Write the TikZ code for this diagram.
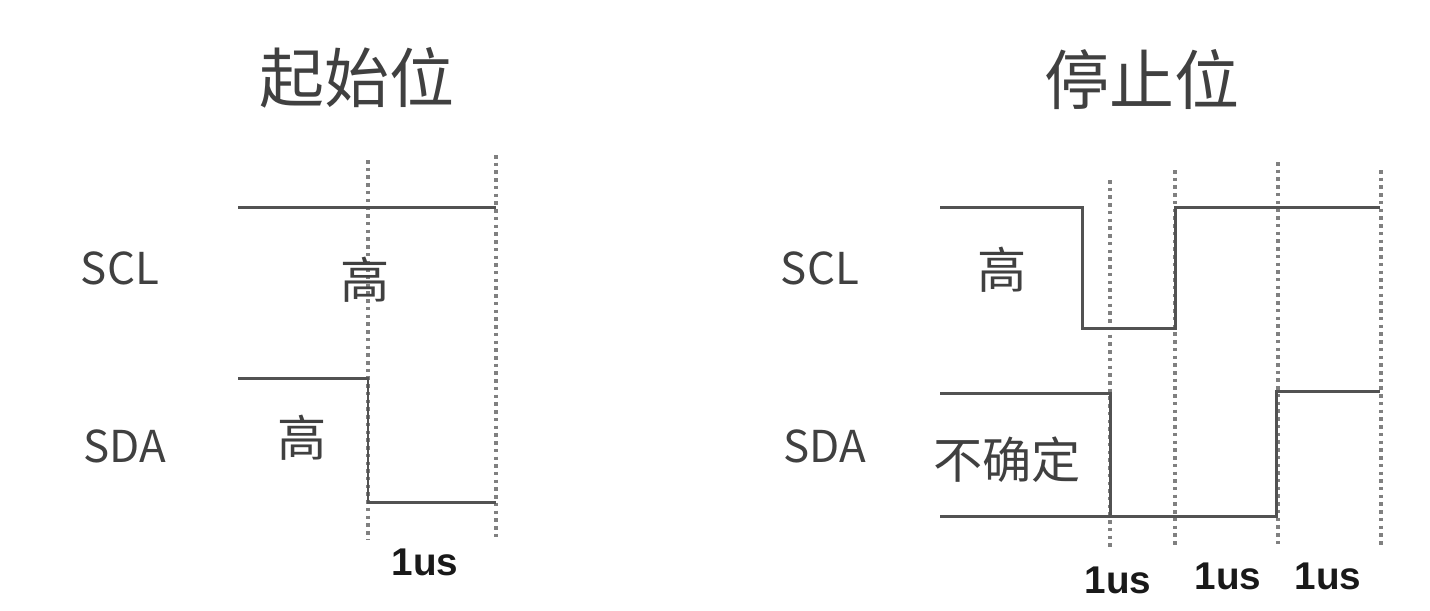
\documentclass[tikz,border=0pt]{standalone}
\usepackage{fontspec}
\setmainfont{Noto Sans CJK SC}
\newfontfamily\spanfont{Liberation Sans}
\usepackage{tikz}
\usetikzlibrary{positioning}

\begin{document}
\begin{tikzpicture}[
  x=0.02cm, y=-0.02cm,
  wave/.style={draw, line width=1.7pt, color=black!68, line join=miter},
  marker/.style={draw, line width=2pt, color=black!50, dash pattern=on 2pt off 2.4pt},
  title/.style={font=\fontsize{37}{40}\selectfont, text=black!75},
  signame/.style={font=\fontsize{25}{28}\selectfont, text=black!75},
  level/.style={font=\fontsize{28}{30}\selectfont, text=black!75},
  span/.style={font=\spanfont\fontsize{22}{24}\selectfont\bfseries, text=black!90}
]
  \useasboundingbox (0,0) rectangle (1430,610);

  % start condition
  \node [title] (starttitle) at (357,78) {起始位};
  \node [signame] (sclA) at (120,268) {SCL};
  \node [signame] (sdaA) at (125,446) {SDA};

  \draw [marker] (368,160) -- (368,540);
  \draw [marker] (496,155) -- (496,540);

  \draw [wave] (238,207) -- (496,207);
  \draw [wave] (238,378) -- (368,378) -- (368,502) -- (496,502);

  \node [level] (sclhighA) at (365,280) {高};
  \node [level] (sdahighA) at (302,438) {高};
  \node [span] (usA) at (425,562) {1us};

  % stop condition
  \node [title] (stoptitle) at (1142,80) {停止位};
  \node [signame] (sclB) at (820,268) {SCL};
  \node [signame] (sdaB) at (825,446) {SDA};

  \foreach \xx/\yy in {1110/180, 1175/170, 1278/162, 1381/170}
    \draw [marker] (\xx,\yy) -- (\xx,548);

  \draw [wave] (940,207) -- (1082,207) -- (1082,328) -- (1175,328)
    -- (1175,207) -- (1380,207);
  \draw [wave] (940,393) -- (1110,393) -- (1110,516);
  \draw [wave] (940,516) -- (1276,516) -- (1276,391) -- (1380,391);

  \node [level] (sclhighB) at (1002,270) {高};
  \node [level] (sdaunknown) at (1007,460) {不确定};
  \node [span] (usB) at (1118,580) {1us};
  \node [span] (usC) at (1228,576) {1us};
  \node [span] (usD) at (1328,576) {1us};

\end{tikzpicture}
\end{document}
